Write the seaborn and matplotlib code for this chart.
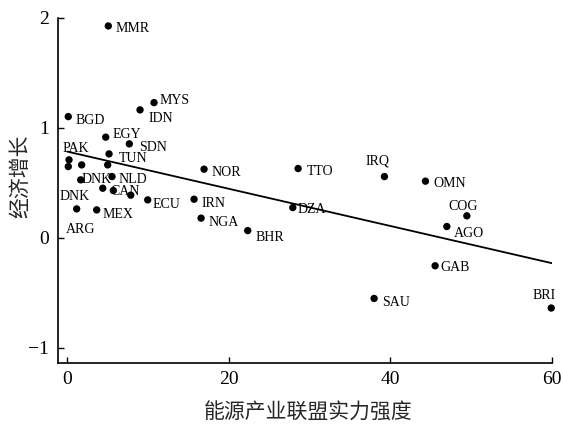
import numpy as np
import pandas as pd
import seaborn as sns
import matplotlib.pyplot as plt

# ===== 数据 =====
countries = ["MMR", "MYS", "IDN", "BGD", "EGY", "SDN", "TUN", "PAK", "ARG", "", "",
             "DNK", "NLD", "", "CAN", "", "ECU", "IRN", "NGA", "DNK", "MEX",
             "NOR", "TTO", "DZA", "BHR", "IRQ", "OMN", "COG", "AGO", "GAB", "SAU", "BRI"]
strength = [5.08, 10.74, 9.01, 0.12, 4.76, 7.68, 5.17, 0.21, 0.12, 1.78, 5.0,
            1.66, 5.54, 4.39, 5.70, 7.86, 9.96, 15.7, 16.57, 1.16, 3.64,
            16.94, 28.59, 27.93, 22.35, 39.28, 44.36, 49.49, 47.01, 45.56, 38.0, 59.94]
growth = [1.925, 1.228, 1.162, 1.101, 0.914, 0.853, 0.762, 0.708, 0.647, 0.662, 0.662,
          0.526, 0.556, 0.45, 0.429, 0.387, 0.344, 0.35, 0.178, 0.262, 0.253,
          0.623, 0.629, 0.274, 0.065, 0.556, 0.514, 0.199, 0.102, -0.255, -0.552, -0.639]

# 拟合直线 (截距, 斜率)
fit_intercept = 0.783
fit_slope = -0.0169
fit_x = [0, 60]

df = pd.DataFrame({"strength": strength, "growth": growth, "country": countries})

# 标签偏移 (像素, 向右, 向下)
offsets = {
    0: (7, 3), 1: (6, -2), 2: (8, 9), 3: (7, 4), 4: (7, -3), 5: (10, 4),
    6: (10, 5), 7: (-6, -11), 8: (-2, 63), 11: (1, 0), 12: (6, 3),
    14: (-3, 1), 16: (5, 5), 17: (7, 4), 18: (7, 4), 19: (-17, -12),
    20: (6, 5), 21: (7, 3), 22: (9, 3), 23: (5, 2), 24: (8, 7),
    25: (-19, -16), 26: (8, 2), 27: (-18, -9), 28: (7, 7), 29: (5, 2),
    30: (8, 4), 31: (-19, -13),
}

sns.set_style("ticks")
plt.rcParams["font.family"] = ["Liberation Serif", "Noto Sans CJK SC"]

fig = plt.figure(figsize=(5.63, 4.24), dpi=100)
ax = fig.add_axes([57.7 / 563, (424 - 362.7) / 424, (551.7 - 57.7) / 563, (362.7 - 17.7) / 424])

sns.scatterplot(data=df, x="strength", y="growth", color="black", s=28,
                edgecolor="none", ax=ax, clip_on=False, zorder=3)

fit_y = [fit_intercept + fit_slope * v for v in fit_x]
sns.lineplot(x=fit_x, y=fit_y, color="black", linewidth=1.3, ax=ax)

for i, name in enumerate(countries):
    if not name:
        continue
    dx, dy = offsets[i]
    ax.annotate(name, (strength[i], growth[i]), xytext=(dx, -dy),
                textcoords="offset pixels", ha="left", va="center",
                fontsize=10, color="black", family="Liberation Serif")

ax.set_xlim(-1.19, 60)
ax.set_ylim(-1.136, 2.0)
ax.set_xticks([0, 20, 40, 60])
ax.set_yticks([-1, 0, 1, 2])
ax.set_yticklabels(["\u22121", "0", "1", "2"])
ax.tick_params(direction="in", length=4, width=1, labelsize=14, colors="black", pad=6)
for side in ["left", "bottom"]:
    ax.spines[side].set_linewidth(1.2)
    ax.spines[side].set_color("black")
sns.despine(ax=ax)

ax.set_xlabel("能源产业联盟实力强度", fontsize=15, family="Noto Sans CJK SC")
ax.set_ylabel("经济增长", fontsize=15, family="Noto Sans CJK SC")
ax.xaxis.set_label_coords(0.506, -0.113)
ax.yaxis.set_label_coords(-0.054, 0.54)

fig.savefig("out.png", dpi=100)
